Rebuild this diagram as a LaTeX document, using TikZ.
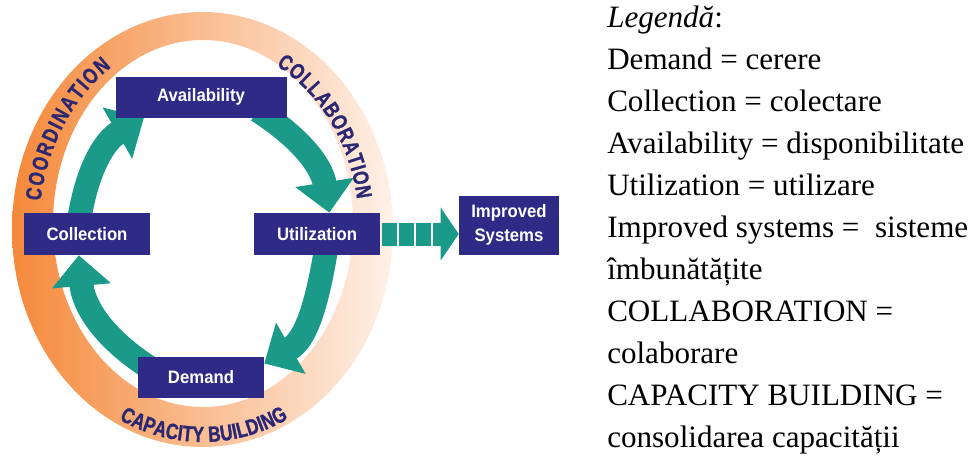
\documentclass[tikz,border=0pt]{standalone}
\usepackage{fontspec}
\setmainfont{Liberation Serif}
\setsansfont{Liberation Sans}
\newfontface\ringface{Liberation Sans Bold}[FakeStretch=0.78,FakeBold=1.2]
\newfontface\boxface{Liberation Sans Bold}[FakeStretch=0.93]
\usetikzlibrary{arrows.meta,decorations.text,backgrounds}

\definecolor{navy}{HTML}{2E2A85}
\definecolor{flowteal}{HTML}{1B9A8A}
\definecolor{ringdark}{HTML}{F5893B}
\definecolor{ringlight}{HTML}{FEF1E8}
\definecolor{ringtext}{HTML}{2B2773}

\newcommand{\ringfont}{\ringface\fontsize{16.5}{18}\selectfont\color{ringtext}}

\begin{document}
\begin{tikzpicture}[x=0.75pt,y=0.75pt,
    flow/.style={draw=flowteal,line width=18pt,shorten <=-10pt,
                 -{Triangle[width=43pt,length=23pt]}},
    blockflow/.style={draw=flowteal,line width=17.25pt,shorten <=1.5pt,
                 dash pattern=on 11.25pt off 1.5pt,
                 -{Triangle[width=39pt,length=13.5pt]}}]
  \tikzstyle{box}=[fill=navy,text=white,inner sep=0pt,align=center,
                   font=\boxface\fontsize{13.5}{18}\selectfont]
  \tikzstyle{legend}=[anchor=base west,inner sep=0pt,
                      font=\fontsize{23.3}{28}\selectfont]

  \useasboundingbox (0,0) rectangle (980,455);

  % orange ring
  \begin{scope}[on background layer]
    \shade[left color=ringdark,right color=ringlight,even odd rule]
      (202.5,225.5) ellipse [x radius=190.5,y radius=217.5]
      (203,231.5) ellipse [x radius=150,y radius=183.5];
  \end{scope}

  \coordinate (ring) at (203,227);
  \path[decorate,decoration={text along path,text align={fit to path},
        text={|\ringfont|COORDINATION}}]
    (ring) ++(172:164 and 194) arc[start angle=172,end angle=124,x radius=164,y radius=194];
  \path[decorate,decoration={text along path,text align={fit to path},
        text={|\ringfont|COLLABORATION}}]
    (ring) ++(62:156 and 184) arc[start angle=62,end angle=9,x radius=156,y radius=184];
  \path[decorate,decoration={text along path,text align={fit to path},
        text={|\ringfont|CAPACITY BUILDING}}]
    (ring) ++(243.5:188 and 214) arc[start angle=243.5,end angle=297,x radius=188,y radius=214];

  % the cycle
  \node[box,minimum width=128.25pt,minimum height=30.75pt] (Availability) at (201,358) {Availability};
  \node[box,minimum width=94.5pt,minimum height=31.5pt]    (Collection)   at (87,221)  {Collection};
  \node[box,minimum width=94.5pt,minimum height=31.5pt]    (Utilization)  at (317,221) {Utilization};
  \node[box,minimum width=94.5pt,minimum height=30.75pt]   (Demand)       at (201,78)  {Demand};
  \node[box,minimum width=75pt,minimum height=44.25pt]     (Improved)     at (509,230) {Improved\\Systems};

  \begin{scope}[on background layer]
    \path (Collection.108)  edge[flow,out=82,in=210]  (Availability.200)
          (Availability.-17) edge[flow,out=-33,in=99] (Utilization.60)
          (Utilization.-69) edge[flow,out=-99,in=30]  (Demand.12)
          (Demand.165)      edge[flow,out=147,in=-85] (Collection.-111)
          (Utilization.east) edge[blockflow] (Utilization.east -| Improved.west);
  \end{scope}

  % legend
  \foreach \entry [count=\i from 0] in {{{\itshape Legendă}:},Demand = cerere,
      Collection = colectare,Availability = disponibilitate,Utilization = utilizare,
      Improved systems = \ sisteme,îmbunătățite,COLLABORATION =,colaborare,
      CAPACITY BUILDING =,consolidarea capacității}
    \node[legend] (legend\i) at (607,428-42*\i) {\entry};
\end{tikzpicture}
\end{document}
